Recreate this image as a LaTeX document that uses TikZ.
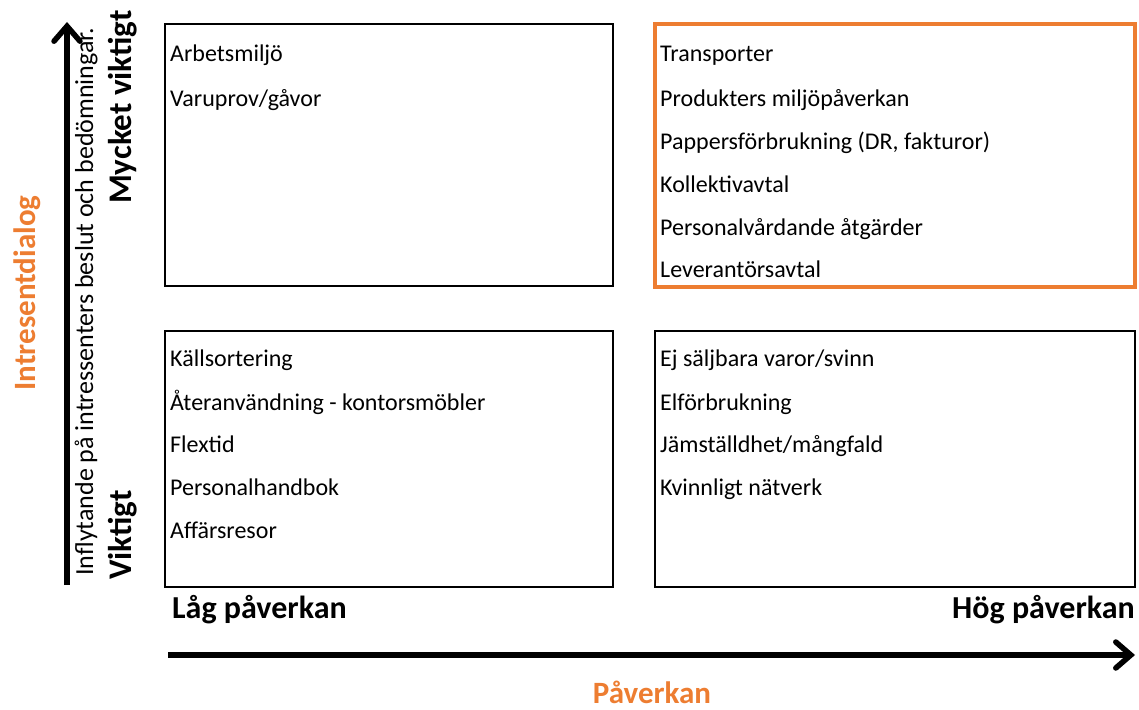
\documentclass[tikz,border=0pt]{standalone}
\usepackage{fontspec}
\setmainfont{Carlito}
\usetikzlibrary{arrows.meta}
\definecolor{orng}{HTML}{ED7D31}
\begin{document}
\begin{tikzpicture}[x=1pt,y=-1pt,
  quad/.style={draw=black,line width=1.8pt},
  item/.style={anchor=base west,font=\fontsize{24}{28}\selectfont,inner sep=0pt},
  bold lbl/.style={font=\fontsize{32}{36}\selectfont\bfseries,inner sep=0pt},
  orange lbl/.style={font=\fontsize{31}{35}\selectfont\bfseries,text=orng,inner sep=0pt},
  axis/.style={line width=5.5pt,-{Straight Barb[length=15pt,width=26pt,line cap=round]}}]
\useasboundingbox (0,0) rectangle (1139,709);
% boxes
\draw[quad] (165,24) rectangle (613,286);
\draw[draw=orng,line width=4pt] (655,24) rectangle (1135,287);
\draw[quad] (165,331) rectangle (613,587);
\draw[quad] (655,331) rectangle (1135,587);
% top-left
\node[item] (a1) at (170,62) {Arbetsmiljö};
\node[item] (a2) at (170,106) {Varuprov/gåvor};
% top-right
\node[item] (b1) at (660,62) {Transporter};
\node[item] (b2) at (660,106) {Produkters miljöpåverkan};
\node[item] (b3) at (660,149) {Pappersförbrukning (DR, fakturor)};
\node[item] (b4) at (660,192) {Kollektivavtal};
\node[item] (b5) at (660,235) {Personalvårdande åtgärder};
\node[item] (b6) at (660,277) {Leverantörsavtal};
% bottom-left
\node[item] (c1) at (170,366) {Källsortering};
\node[item] (c2) at (170,410) {Återanvändning - kontorsmöbler};
\node[item] (c3) at (170,452) {Flextid};
\node[item] (c4) at (170,495) {Personalhandbok};
\node[item] (c5) at (170,538) {Affärsresor};
% bottom-right
\node[item] (d1) at (660,366) {Ej säljbara varor/svinn};
\node[item] (d2) at (660,410) {Elförbrukning};
\node[item] (d3) at (660,452) {Jämställdhet/mångfald};
\node[item] (d4) at (660,495) {Kvinnligt nätverk};
% axes
\coordinate (vs) at (67,585);
\coordinate (ve) at (67,22);
\draw[axis] (vs) -- (ve);
\coordinate (hs) at (168,655);
\coordinate (he) at (1135,655);
\draw[axis] (hs) -- (he);
% axis labels
\node[rotate=90,anchor=base west,inner sep=0pt,font=\fontsize{26}{30}\selectfont] (infl) at (93,576) {Inflytande på intressenters beslut och bedömningar.};
\node[rotate=90,anchor=base east,bold lbl,font=\fontsize{33}{37}\selectfont\bfseries] (mv) at (131,10) {Mycket viktigt};
\node[rotate=90,anchor=base west,bold lbl,font=\fontsize{33}{37}\selectfont\bfseries] (vk) at (131,580) {Viktigt};
\node[rotate=90,orange lbl] (id) at (27,293) {Intresentdialog};
\node[bold lbl,anchor=base west] (lp) at (172,618) {Låg påverkan};
\node[bold lbl,anchor=base east] (hp) at (1135,618) {Hög påverkan};
\node[orange lbl,anchor=base] (pv) at (652,703) {Påverkan};
\end{tikzpicture}
\end{document}
